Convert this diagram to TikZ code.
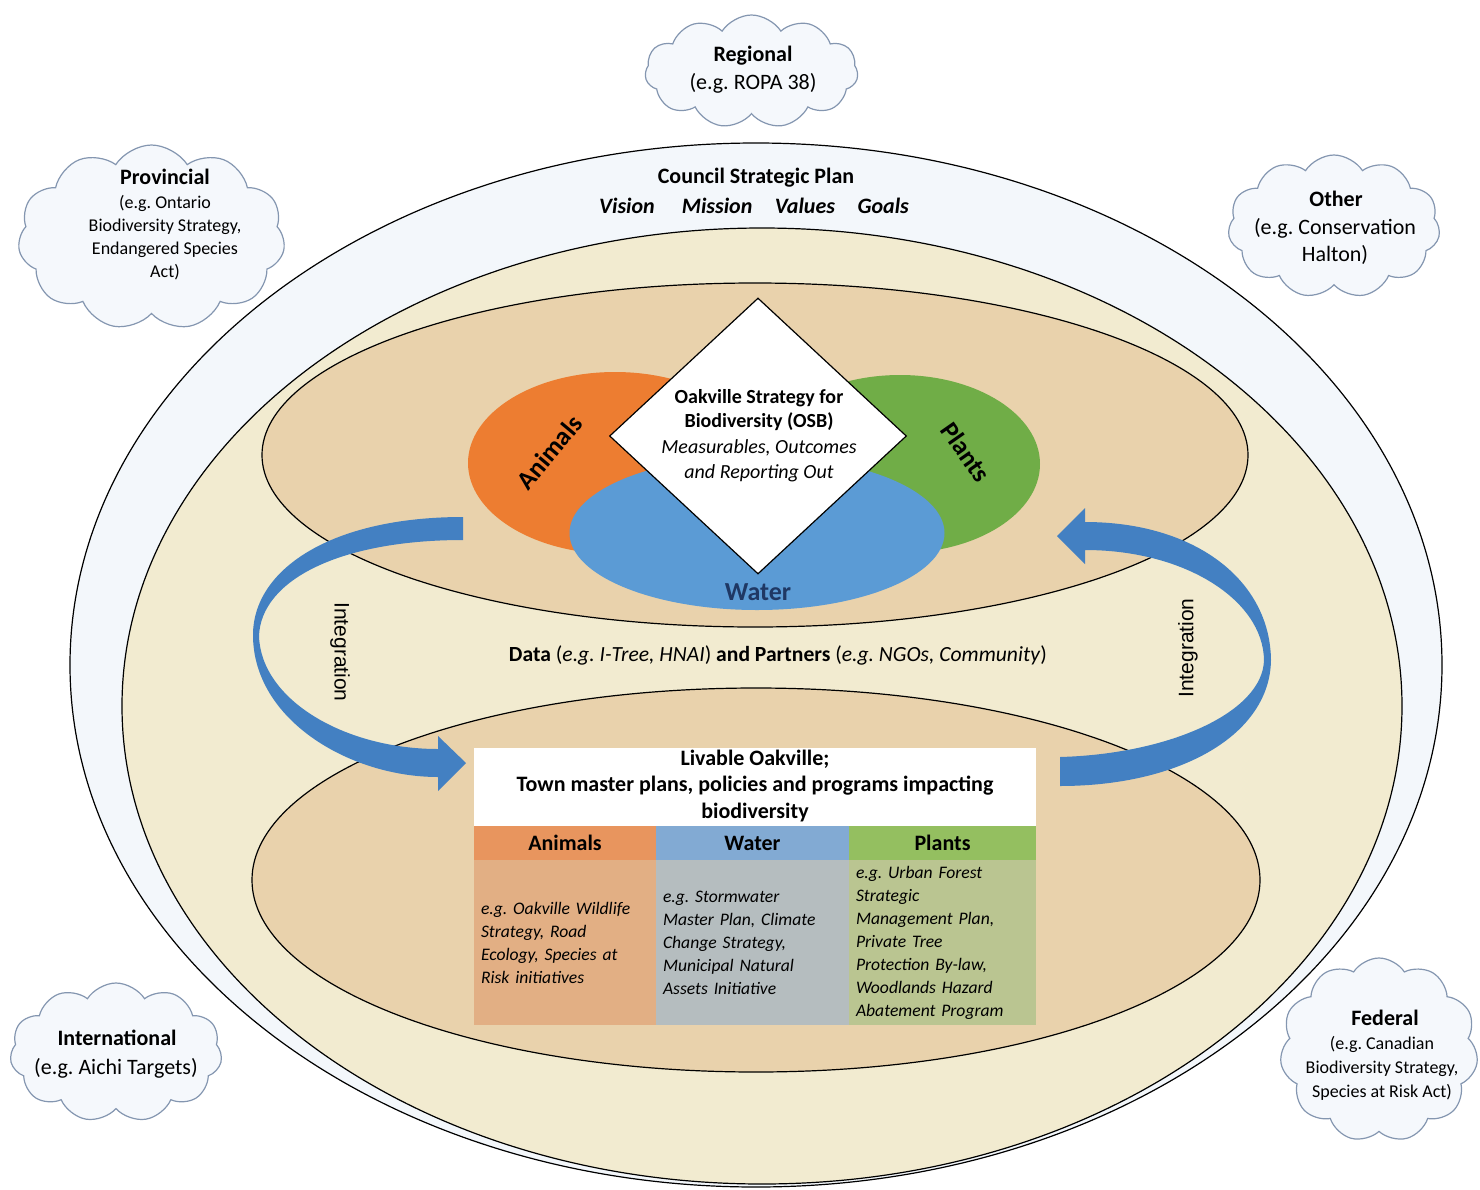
\documentclass[tikz,border=0pt]{standalone}
\usepackage{fontspec}
\setmainfont{Carlito}
\newfontfamily\arialfont{Liberation Sans}
\usetikzlibrary{shapes.geometric,shapes.symbols}
\frenchspacing

\definecolor{outerfill}{HTML}{F3F7FB}
\definecolor{creamfill}{HTML}{F2EBD0}
\definecolor{tanfill}{HTML}{E9D2AC}
\definecolor{orangeset}{HTML}{ED7D31}
\definecolor{greenset}{HTML}{70AD47}
\definecolor{blueset}{HTML}{5B9BD5}
\definecolor{waterink}{HTML}{1F3864}
\definecolor{arrowblue}{HTML}{4380C2}
\definecolor{cloudfill}{HTML}{F5F8FC}
\definecolor{cloudline}{HTML}{8496B0}
\definecolor{animalhead}{HTML}{E8955E}
\definecolor{animalbody}{HTML}{E2AF84}
\definecolor{waterhead}{HTML}{82AAD3}
\definecolor{waterbody}{HTML}{B5BDBF}
\definecolor{planthead}{HTML}{94BF60}
\definecolor{plantbody}{HTML}{BAC591}

\begin{document}
\begin{tikzpicture}[x=0.5pt,y=-0.5pt,
    ring/.style={draw=black,line width=0.6pt},
    cloudy/.style={cloud,cloud puffs=11,cloud puff arc=115,cloud ignores aspect,
      draw=cloudline,fill=cloudfill,line width=0.6pt,inner sep=0pt},
    cloudtitle/.style={font=\bfseries\fontsize{11}{13.5}\selectfont},
    cloudbig/.style={font=\fontsize{11}{13.5}\selectfont,align=center},
    cloudsmall/.style={font=\fontsize{9}{11.5}\selectfont,align=center},
    vennlabel/.style={font=\bfseries\fontsize{13}{15}\selectfont},
    headcell/.style={inner sep=0pt,minimum height=17pt,font=\bfseries\fontsize{11}{13}\selectfont},
    bodycell/.style={inner xsep=3.5pt,inner ysep=0pt,minimum height=82.5pt,align=left,
      font=\itshape\fontsize{8.8}{11.5}\selectfont}]
  \useasboundingbox (0,0) rectangle (1480,1190);

  % nested rings
  \draw[ring,fill=outerfill] (756,665) ellipse [x radius=343pt, y radius=261pt];
  \draw[ring,fill=creamfill] (762,706) ellipse [x radius=320pt, y radius=239pt];
  \draw[ring,fill=tanfill]   (755,455) ellipse [x radius=246.5pt, y radius=86pt];
  \draw[ring,fill=tanfill]   (756,880) ellipse [x radius=252pt, y radius=96pt];

  \node[font=\bfseries\fontsize{11}{13}\selectfont] (council) at (756,178) {Council Strategic Plan};
  \node[font=\bfseries\itshape\fontsize{11}{13}\selectfont] (vision) at (754,206)
    {Vision\hspace{1em} Mission\hspace{0.8em} Values\hspace{0.8em} Goals};

  % venn of the strategy
  \fill[orangeset] (615,463) ellipse [x radius=73.5pt, y radius=45.5pt];
  \fill[greenset]  (900,464) ellipse [x radius=70pt, y radius=44.5pt];
  \fill[blueset]   (757,533) ellipse [x radius=93.75pt, y radius=38.5pt];
  \node[diamond,draw=black,line width=0.6pt,fill=white,inner sep=0pt,
    minimum width=148.5pt,minimum height=138pt] (osb) at (758,436) {};
  \node[font=\bfseries\fontsize{10}{12.25}\selectfont,align=center] (osbtitle) at (759,410)
    {Oakville Strategy for\\Biodiversity (OSB)};
  \node[font=\itshape\fontsize{10}{12.25}\selectfont,align=center] (osbsub) at (759,461)
    {Measurables, Outcomes\\and Reporting Out};
  \node[vennlabel,rotate=50]  (animals) at (549,452) {Animals};
  \node[vennlabel,rotate=-55] (plants)  at (966,452) {Plants};
  \node[vennlabel,text=waterink] (water) at (758,592) {Water};

  % integration arrows
  \fill[arrowblue] (463,517) .. controls (330,517) and (253,570) .. (253,635)
    .. controls (253,720) and (350,777) .. (438,777) -- (438,791) -- (466,763) -- (438,736) -- (438,749)
    .. controls (345,749) and (261,700) .. (259,636) .. controls (261,580) and (340,540) .. (463,540) -- cycle;
  \fill[arrowblue] (1060,757) .. controls (1170,754) and (1263,712) .. (1264,660)
    .. controls (1263,600) and (1185,550) .. (1085,550) -- (1085,564) -- (1057,536) -- (1085,508) -- (1085,522)
    .. controls (1195,522) and (1270,580) .. (1271,660) .. controls (1270,735) and (1180,786) .. (1060,786) -- cycle;
  \node[font=\arialfont\fontsize{10.5}{12}\selectfont,rotate=-90] (intleft)  at (340,652) {Integration};
  \node[font=\arialfont\fontsize{10.5}{12}\selectfont,rotate=90]  (intright) at (1188,648) {Integration};

  \node[font=\fontsize{10.8}{13}\selectfont] (data) at (778,655)
    {\textbf{Data} (\textit{e.g.\ I-Tree, HNAI}) \textbf{and Partners} (\textit{e.g.\ NGOs, Community})};

  % town table
  \node[fill=white,inner sep=0pt,minimum width=281pt,minimum height=39pt] (tabhead) at (755,787) {};
  \node[font=\bfseries\fontsize{11}{13.25}\selectfont,align=center] (tabtitle) at (755,786)
    {Livable Oakville;\\Town master plans, policies and programs impacting\\biodiversity};
  \node[headcell,fill=animalhead,minimum width=91pt]   (animalhd) at (565,843)   {Animals};
  \node[headcell,fill=waterhead,minimum width=96.5pt]  (waterhd)  at (752.5,843) {Water};
  \node[headcell,fill=planthead,minimum width=93.5pt]  (planthd)  at (942.5,843) {Plants};
  \node[bodycell,fill=animalbody,text width=84pt] (animalbd) at (565,942.5)
    {e.g.\ Oakville Wildlife\\Strategy, Road\\Ecology, Species at\\Risk initiatives};
  \node[bodycell,fill=waterbody,text width=89.5pt] (waterbd) at (752.5,942.5)
    {e.g.\ Stormwater\\Master Plan, Climate\\Change Strategy,\\Municipal Natural\\Assets Initiative};
  \node[bodycell,fill=plantbody,text width=86.5pt] (plantbd) at (942.5,942.5)
    {e.g.\ Urban Forest\\Strategic\\Management Plan,\\Private Tree\\Protection By-law,\\Woodlands Hazard\\Abatement Program};

  % outside influences
  \node[cloudy,minimum width=106.5pt,minimum height=56.5pt] (regional) at (751.5,71.5) {};
  \node[cloudtitle] (regionaltitle) at (753,56) {Regional};
  \node[cloudbig] (regionalsub) at (753,83) {(e.g.\ ROPA 38)};

  \node[cloudy,minimum width=133.5pt,minimum height=92.5pt] (provincial) at (151.5,237.5) {};
  \node[cloudtitle] (provincialtitle) at (165,177) {Provincial};
  \node[cloudsmall] (provincialsub) at (165,238) {(e.g.\ Ontario\\Biodiversity Strategy,\\Endangered Species\\Act)};

  \node[cloudy,minimum width=106pt,minimum height=71.5pt] (other) at (1334,226.5) {};
  \node[cloudtitle] (othertitle) at (1336,199) {Other};
  \node[cloudbig] (othersub) at (1335,241) {(e.g.\ Conservation\\Halton)};

  \node[cloudy,minimum width=106pt,minimum height=69.5pt] (international) at (116,1052.5) {};
  \node[cloudtitle] (internationaltitle) at (117,1038) {International};
  \node[cloudbig] (internationalsub) at (116,1068) {(e.g.\ Aichi Targets)};

  \node[cloudy,minimum width=99pt,minimum height=92pt] (federal) at (1379,1050) {};
  \node[cloudtitle] (federaltitle) at (1385,1018) {Federal};
  \node[cloudsmall,font=\fontsize{9}{12}\selectfont] (federalsub) at (1382,1068)
    {(e.g.\ Canadian\\Biodiversity Strategy,\\Species at Risk Act)};
\end{tikzpicture}
\end{document}
